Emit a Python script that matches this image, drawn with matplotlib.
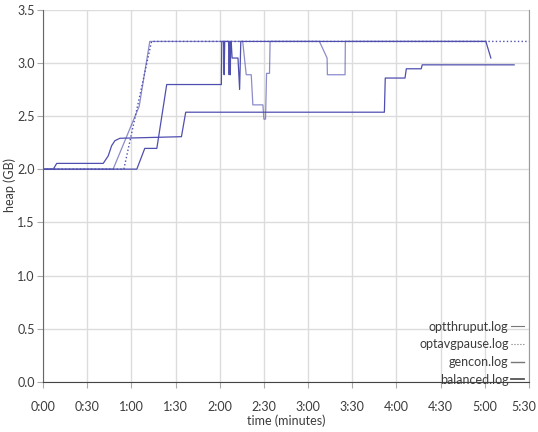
import numpy as np
import matplotlib.pyplot as plt
from matplotlib.lines import Line2D
from matplotlib.ticker import FuncFormatter, MultipleLocator

plt.rcParams['font.family'] = ['Lato', 'DejaVu Sans']

# time in seconds, heap in GB
balanced_t = [0, 7.0, 9.3, 40.9, 44.3, 46.6, 48.8, 52.2, 94.0, 96.9, 231.8, 232.4,
              245.8, 246.7, 256.8, 257.5, 319.9]
balanced_v = [2.0, 2.0, 2.054, 2.054, 2.125, 2.22, 2.267, 2.29, 2.305, 2.535, 2.535, 2.856,
              2.856, 2.943, 2.943, 2.98, 2.98]

gencon_t = [0, 63.7, 69.1, 77.3, 84.0, 121.1, 121.4, 122.6, 123.0, 123.4, 126.0, 126.4,
            126.8, 127.2, 127.4, 127.8, 128.4, 132.4, 133.5, 134.3, 300.7, 304.1]
gencon_v = [2.0, 2.0, 2.195, 2.195, 2.795, 2.795, 3.2, 3.2, 2.887, 3.2, 3.2, 2.887,
            3.2, 2.887, 3.2, 3.2, 3.044, 3.044, 2.748, 3.2, 3.2, 3.044]

optthruput_t = [0, 47.6, 65.3, 72.5, 135.6, 138.0, 141.4, 142.5, 149.3, 150.0, 151.1,
                151.8, 153.8, 154.2, 187.7, 192.9, 193.1, 205.1, 205.3, 300.9]
optthruput_v = [2.0, 2.0, 2.59, 3.2, 3.2, 2.887, 2.887, 2.604, 2.604, 2.47, 2.47,
                2.90, 2.90, 3.2, 3.2, 3.044, 2.887, 2.887, 3.2, 3.2]

optavgpause_t = [0, 54.9, 73.7, 330]
optavgpause_v = [2.0, 2.0, 3.2, 3.2]

labels = ['optthruput.log', 'optavgpause.log', 'gencon.log', 'balanced.log']

blue = '#4f4fb0'
txt = '#3c3c3c'
x_max = 330


def fmt_time(s, p):
    s = int(round(s))
    if s >= x_max:
        return ''
    return '%d:%02d' % (s // 60, s % 60)


fig = plt.figure(figsize=(5.38, 4.32), dpi=100)
ax = fig.add_axes([43 / 538, 50 / 432, 486 / 538, 372.5 / 432])

ax.plot(optthruput_t, optthruput_v, color=blue, lw=0.9, alpha=0.65)
ax.plot(optavgpause_t, optavgpause_v, color=blue, lw=1.0, ls=':')
ax.plot(gencon_t, gencon_v, color=blue, lw=0.9)
ax.plot(balanced_t, balanced_v, color=blue, lw=0.9)

ax.set_xlim(0, x_max)
ax.set_ylim(0, 3.5)
ax.xaxis.set_major_locator(MultipleLocator(30))
ax.yaxis.set_major_locator(MultipleLocator(0.5))
ax.xaxis.set_major_formatter(FuncFormatter(fmt_time))
ax.yaxis.set_major_formatter(FuncFormatter(lambda v, p: '%.1f' % v))

# last label sits against the right edge, pulled in a little
ax.annotate('%d:%02d' % (x_max // 60, x_max % 60), xy=(x_max, 0), xycoords=('data', 'axes fraction'),
            xytext=(-4, -13.5), textcoords='offset points', ha='center', va='top',
            fontsize=9, color=txt, annotation_clip=False)

ax.grid(True, color='#dcdcdc', lw=1.0)
ax.set_axisbelow(True)
ax.spines['top'].set_visible(False)
ax.spines['left'].set_color('#666666')
ax.spines['bottom'].set_color('#444444')
ax.spines['right'].set_color('#9a9a9a')
ax.tick_params(direction='out', length=4, color='#aaaaaa', labelcolor=txt, labelsize=9, pad=10)
ax.tick_params(axis='y', pad=2)

ax.set_xlabel('time (minutes)', color=txt, fontsize=9, labelpad=1)
ax.set_ylabel('heap (GB)', color=txt, fontsize=9)
ax.yaxis.set_label_coords(-0.056, 0.53)

handles = [Line2D([], [], color='#777777', lw=0.8),
           Line2D([], [], color='#777777', lw=0.8, ls=':'),
           Line2D([], [], color='#777777', lw=1.0),
           Line2D([], [], color='#555555', lw=1.3)]
ax.legend(handles, labels, loc='lower right', bbox_to_anchor=(1.012, -0.04), frameon=False,
          markerfirst=False, handlelength=1.0, handletextpad=0.2, labelspacing=0.45,
          fontsize=9, labelcolor=txt)

fig.savefig('out.png', dpi=100)
